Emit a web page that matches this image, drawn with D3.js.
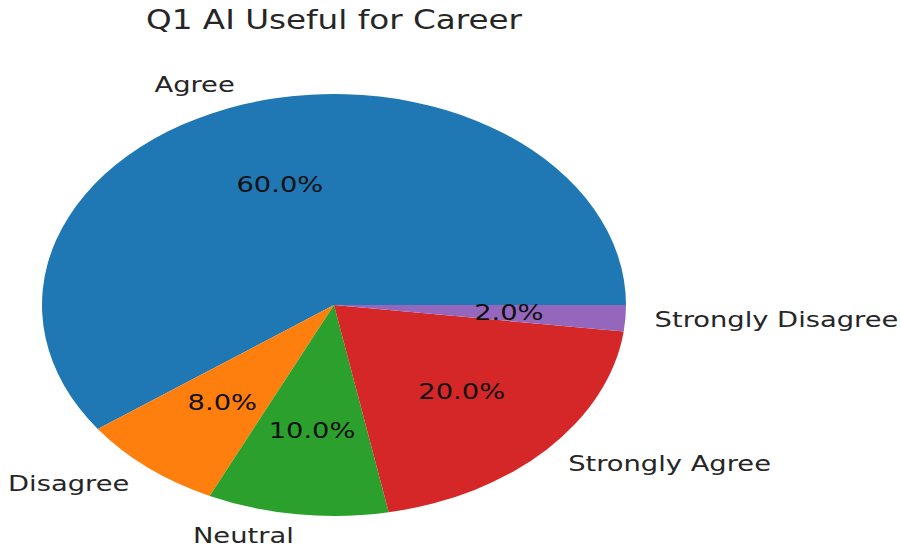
<!DOCTYPE html>
<html>
<head>
<meta charset="utf-8">
<script src="https://cdn.jsdelivr.net/npm/d3@7"></script>
<style>
  html, body { margin: 0; padding: 0; background: #fff; }
  text { font-family: "DejaVu Sans", sans-serif; fill: #262626; }
</style>
</head>
<body>
<svg id="chart" width="901" height="547"></svg>
<script>
const categories = ["Agree", "Disagree", "Neutral", "Strongly Agree", "Strongly Disagree"];
const values = [30, 4, 5, 10, 1];
const colors = ["#1f77b4", "#ff7f0e", "#2ca02c", "#d62728", "#9467bd"];
const title = "Q1 AI Useful for Career";

const W = 901, H = 547;
const cx = 334, cy = 305, rx = 292, ry = 211;
const sx = rx / ry;
const textScale = 1.272;
const titleScale = 1.265;
const labelSize = 21.5, titleSize = 25.8;

const svg = d3.select("#chart");

const pie = d3.pie().sort(null).value(d => d)
  .startAngle(Math.PI / 2).endAngle(Math.PI / 2 - 2 * Math.PI);
const arcs = pie(values);
const total = d3.sum(values);

const arc = d3.arc().innerRadius(0).outerRadius(ry);

const g = svg.append("g").attr("transform", `translate(${cx},${cy}) scale(${sx},1)`);
g.selectAll("path").data(arcs).join("path")
  .attr("d", arc)
  .attr("fill", (d, i) => colors[i]);

function pos(d, f) {
  const a = (d.startAngle + d.endAngle) / 2;
  return [cx + f * rx * Math.sin(a), cy - f * ry * Math.cos(a)];
}

// category labels
arcs.forEach((d, i) => {
  const [x, y] = pos(d, 1.1);
  svg.append("g").attr("transform", `translate(${x},${y}) scale(${textScale},1)`)
    .append("text")
    .attr("text-anchor", x < cx ? "end" : "start")
    .attr("dominant-baseline", "central")
    .attr("font-size", labelSize)
    .text(categories[i]);
});

// percentage labels
arcs.forEach((d, i) => {
  const [x, y] = pos(d, 0.6);
  svg.append("g").attr("transform", `translate(${x},${y}) scale(${textScale},1)`)
    .append("text")
    .attr("text-anchor", "middle")
    .attr("dominant-baseline", "central")
    .attr("font-size", labelSize)
    .style("fill", "#111")
    .text((100 * values[i] / total).toFixed(1) + "%");
});

svg.append("g").attr("transform", `translate(${cx},29) scale(${titleScale},1)`)
  .append("text")
  .attr("text-anchor", "middle")
  .attr("font-size", titleSize)
  .text(title);
</script>
</body>
</html>
